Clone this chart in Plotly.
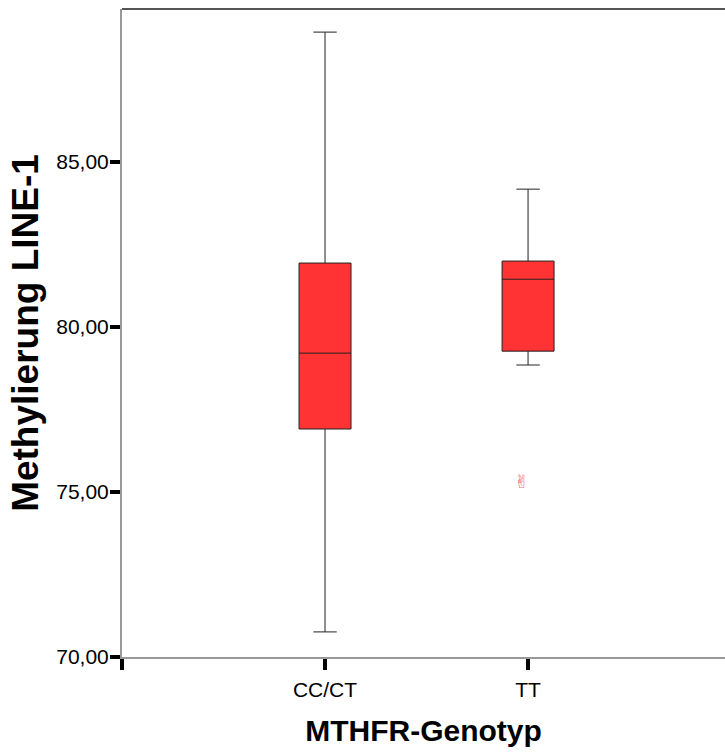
import plotly.graph_objects as go

categories = ["CC/CT", "TT"]
positions = [1, 2]
q1 = [76.91, 79.27]
median = [79.21, 81.45]
q3 = [81.94, 82.00]
lowerfence = [70.76, 78.85]
upperfence = [88.94, 84.18]
outlier_pos = [2]
outlier_val = [75.33]
y_ticks = [70, 75, 80, 85]

fig = go.Figure()
for i in range(len(categories)):
    fig.add_trace(go.Box(
        x=[positions[i]], q1=[q1[i]], median=[median[i]], q3=[q3[i]],
        lowerfence=[lowerfence[i]], upperfence=[upperfence[i]],
        width=0.256, whiskerwidth=0.45,
        fillcolor="#FF3333", line=dict(color="#222222", width=1),
        boxpoints=False, showlegend=False, hoverinfo="skip",
    ))

for xp, yv in zip(outlier_pos, outlier_val):
    fig.add_annotation(x=xp, y=yv, text="✌", showarrow=False, xshift=-7,
                       font=dict(color="#FF6666", size=18, family="DejaVu Sans"))

fig.add_shape(type="line", xref="paper", yref="paper", x0=0, x1=1, y0=1, y1=1,
              line=dict(color="#555555", width=2))

fig.update_layout(
    width=725, height=756,
    margin=dict(l=122, r=0, t=9, b=99),
    plot_bgcolor="white", paper_bgcolor="white",
    separators=",.",
    font=dict(family="Liberation Sans, Arial", color="black", size=21),
    xaxis=dict(
        range=[0, 2.97], tickmode="array", tickvals=[0] + positions,
        ticktext=[""] + categories, ticks="outside", ticklen=11, tickwidth=4,
        tickcolor="black", showline=True, linecolor="#999999", linewidth=2,
        showgrid=False, zeroline=False, ticklabelstandoff=2,
        title=dict(text="<b>MTHFR-Genotyp</b>", font=dict(size=30), standoff=20),
        tickfont=dict(size=21),
    ),
    yaxis=dict(
        range=[70, 89.64], tickmode="array", tickvals=y_ticks, tickformat=".2f",
        ticks="outside", ticklen=10, tickwidth=4, tickcolor="black",
        showline=True, linecolor="#999999", linewidth=2,
        showgrid=False, zeroline=False, ticklabelstandoff=-3,
        title=dict(text="<b>Methylierung LINE-1</b>", font=dict(size=37), standoff=6),
        tickfont=dict(size=21),
    ),
)

fig.write_html("out.html")
